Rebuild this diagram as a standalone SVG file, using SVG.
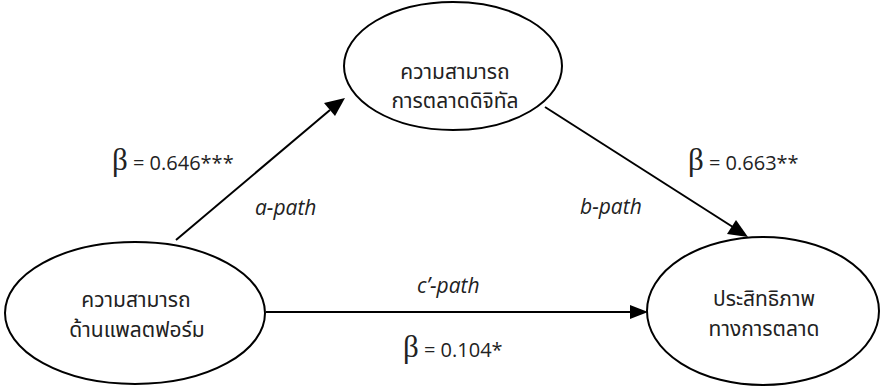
<svg xmlns="http://www.w3.org/2000/svg" width="880" height="387" viewBox="0 0 880 387">
<defs>
<style>
.node{fill:#fff;stroke:#000;stroke-width:2}
.th{font-family:"Noto Sans Thai","Noto Sans","DejaVu Sans",sans-serif;font-size:21px;fill:#222;text-anchor:middle}
.lbl{font-family:"Open Sans","Noto Sans",sans-serif;font-size:20px;fill:#222}
.beta{font-family:"Liberation Serif","DejaVu Serif",serif;font-size:31px}
.it{font-family:"Open Sans","Noto Sans",sans-serif;font-size:21px;font-style:italic;fill:#222}
.edge{stroke:#000;stroke-width:2;fill:none}
</style>
</defs>
<rect width="880" height="387" fill="#fff"/>
<g id="connectors">
<line class="edge" x1="176" y1="240" x2="330" y2="110"/>
<path d="M345,98 L324,103 L335,116 z" fill="#000"/>
<line class="edge" x1="545" y1="107" x2="736" y2="229"/>
<path d="M748,237 L727,234 L736,220 z" fill="#000"/>
<line class="edge" x1="266" y1="312" x2="632" y2="312"/>
<path d="M648,312 L630,305 L630,319 z" fill="#000"/>
</g>
<g id="node-digital">
<ellipse class="node" cx="453" cy="66" rx="109" ry="64"/>
<text class="th" x="455" y="79">ความสามารถ</text>
<text class="th" x="455" y="108">การตลาดดิจิทัล</text>
</g>
<g id="node-platform">
<ellipse class="node" cx="135" cy="313" rx="130" ry="71"/>
<text class="th" x="136" y="307">ความสามารถ</text>
<text class="th" x="137" y="337">ด้านแพลตฟอร์ม</text>
</g>
<g id="node-performance">
<ellipse class="node" cx="763" cy="311" rx="116" ry="74"/>
<text class="th" x="764" y="306">ประสิทธิภาพ</text>
<text class="th" x="764" y="336">ทางการตลาด</text>
</g>
<g id="labels">
<text class="lbl" x="112" y="170"><tspan class="beta">β</tspan> = 0.646***</text>
<text class="it" x="255" y="215">a-path</text>
<text class="it" x="580" y="214">b-path</text>
<text class="lbl" x="688" y="170"><tspan class="beta">β</tspan> = 0.663**</text>
<text class="it" x="417" y="293">c’-path</text>
<text class="lbl" x="403" y="357"><tspan class="beta">β</tspan> = 0.104*</text>
</g>
</svg>
